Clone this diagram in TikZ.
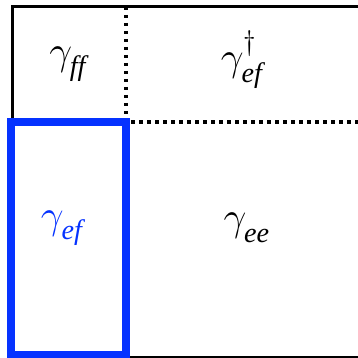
\documentclass[tikz,border=0pt]{standalone}
\usepackage{amsmath}
\usepackage{fontspec}
\setmainfont{Liberation Serif}
\usetikzlibrary{positioning}
\definecolor{blockblue}{RGB}{5,50,255}
\newcommand{\lowsub}[1]{\text{\raisebox{-2.2pt}{\itshape #1}}}

\begin{document}
\begin{tikzpicture}[x=1pt, y=-1pt,
  cell/.style={inner sep=0pt, font=\LARGE, scale=2.35},
  solidline/.style={line width=3pt, draw=black},
  dotline/.style={line width=3.5pt, draw=black, dash pattern=on 3.5pt off 4.5pt},
  bluebox/.style={line width=8pt, draw=blockblue}
]

\useasboundingbox (0,0) rectangle (358,358);

%% -- grid corners ------------------------------------------------------------
\coordinate (tl) at (12,7);
\coordinate (tm) at (126,7);
\coordinate (tr) at (360,7);
\coordinate (ml) at (12,122);
\coordinate (mm) at (126,122);
\coordinate (mr) at (360,122);
\coordinate (bm) at (126,357);
\coordinate (br) at (360,357);

%% -- blocks ------------------------------------------------------------------
\node[cell] (gff) at (68,64) {$\gamma_{\lowsub{ff}}$};
\node[cell] (gefd) at (242,60) {$\gamma^{\dagger}_{\lowsub{ef}}$};
\node[cell, text=blockblue] (gef) at (62,228) {$\gamma_{\lowsub{ef}}$};
\node[cell] (gee) at (247,228) {$\gamma_{\lowsub{ee}}$};

%% -- borders -----------------------------------------------------------------
\draw[solidline] (ml) -- (tl) -- (tr);
\draw[solidline] (bm) -- (br);
\draw[dotline] (tm) -- (mm) -- (mr);
\draw[bluebox] (11,122) rectangle (126,355);

\end{tikzpicture}
\end{document}
